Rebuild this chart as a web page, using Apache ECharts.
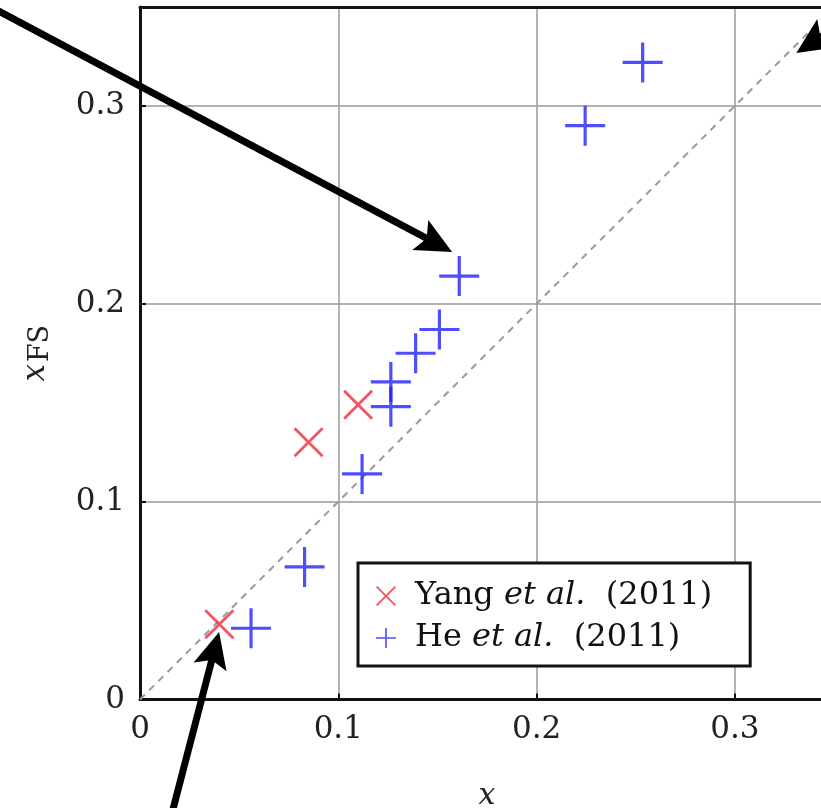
<!DOCTYPE html>
<html>
<head>
<meta charset="utf-8">
<script src="https://cdn.jsdelivr.net/npm/echarts@6/dist/echarts.min.js"></script>
<style>html,body{margin:0;padding:0;background:#fff}#c{width:821px;height:808px}</style>
</head>
<body>
<div id="c"></div>
<script>
// Data
const yangX = [0.040, 0.085, 0.110];
const yangY = [0.038, 0.130, 0.149];
const heX = [0.056, 0.083, 0.112, 0.1265, 0.1265, 0.139, 0.151, 0.161, 0.2245, 0.2535];
const heY = [0.036, 0.067, 0.114, 0.148, 0.1605, 0.175, 0.187, 0.214, 0.290, 0.322];
const tickValues = [0, 0.1, 0.2, 0.3];
const tickLabels = ['0', '0.1', '0.2', '0.3'];
const diagX = [0, 0.35];
const diagY = [0, 0.35];
// annotation arrows: [tailX, tailY, tipX, tipY] in data units
const arrows = [
  [-0.0807, 0.3530, 0.1574, 0.2262],
  [0.0126, -0.071, 0.0399, 0.0341],
  [0.3683, 0.3511, 0.3310, 0.3268]
];

const serif = '"DejaVu Serif", "Liberation Serif", serif';
const plusPath = 'path://M18.4,0 H21.6 V18.4 H40 V21.6 H21.6 V40 H18.4 V21.6 H0 V18.4 H18.4 Z';
const crossPath = 'path://M2,0 L15,13 L28,0 L30,2 L17,15 L30,28 L28,30 L15,17 L2,30 L0,28 L13,15 L0,2 Z';
const red = '#f02a3a';
const blue = '#2222ff';

function lbl(v) {
  for (let i = 0; i < tickValues.length; i++) if (Math.abs(v - tickValues[i]) < 1e-9) return tickLabels[i];
  return '';
}

const chart = echarts.init(document.getElementById('c'), null, {renderer: 'canvas'});
const richLegend = {
  n: {fontFamily: serif, fontSize: 32, color: '#111'},
  i: {fontFamily: serif, fontSize: 32, fontStyle: 'italic', color: '#111'}
};
const frameAxis = {
  axisLine: {show: true, onZero: false, lineStyle: {color: '#111', width: 3}},
  axisTick: {show: true, inside: true, length: 6, lineStyle: {color: '#111', width: 2}},
  splitLine: {show: true, lineStyle: {color: '#9a9a9a', width: 1.5}}
};
chart.setOption({
  backgroundColor: '#fff',
  animation: false,
  grid: {left: 140, width: 694, top: 7, height: 692.5, outerBoundsMode: 'none', containLabel: false,
         show: false},
  xAxis: [{
    type: 'value', min: 0, max: 0.35, interval: 0.1,
    name: 'x', nameLocation: 'middle', nameGap: 82,
    nameTextStyle: {fontFamily: serif, fontStyle: 'italic', fontSize: 30, color: '#222'},
    axisLine: frameAxis.axisLine, axisTick: frameAxis.axisTick, splitLine: frameAxis.splitLine,
    axisLabel: {showMaxLabel: false, margin: 15, fontFamily: serif, fontSize: 31, color: '#222', formatter: lbl}
  }, {
    type: 'value', position: 'top', min: 0, max: 0.35, interval: 0.1,
    axisLine: frameAxis.axisLine, axisTick: {show: false}, axisLabel: {show: false}, splitLine: {show: false}
  }],
  yAxis: {
    type: 'value', min: 0, max: 0.35, interval: 0.1,
    name: '{i|x}{s|FS}', nameLocation: 'middle', nameGap: 86, nameRotate: 90,
    nameTextStyle: {rich: {
      i: {fontFamily: serif, fontStyle: 'italic', fontSize: 31, color: '#222'},
      s: {fontFamily: serif, fontSize: 27, color: '#222', padding: [10, 0, 0, 2]}
    }},
    axisLine: frameAxis.axisLine, axisTick: frameAxis.axisTick, splitLine: frameAxis.splitLine,
    axisLabel: {showMaxLabel: false, margin: 15, fontFamily: serif, fontSize: 31, color: '#222', formatter: lbl}
  },
  legend: {
    orient: 'vertical', left: 358, top: 563,
    padding: [15, 38, 10, 18],
    backgroundColor: '#fff', borderColor: '#111', borderWidth: 3,
    itemWidth: 20, itemHeight: 20, itemGap: 6,
    data: [
      {name: 'Yang', icon: crossPath, itemStyle: {color: red}},
      {name: 'He', icon: plusPath, itemStyle: {color: blue}}
    ],
    formatter: function (n) {
      return n === 'Yang' ? '{n|Yang }{i|et al.}{n|  (2011)}' : '{n|He }{i|et al.}{n|  (2011)}';
    },
    textStyle: {rich: richLegend, padding: [0, 0, 0, 14], lineHeight: 36}
  },
  series: [
    {
      type: 'line', data: diagX.map((v, i) => [v, diagY[i]]), showSymbol: false, symbol: 'none',
      lineStyle: {color: '#9a9a9a', width: 2, type: [7, 6]}, silent: true, z: 1
    },
    {
      name: 'Yang', type: 'scatter', symbol: crossPath, symbolSize: 30,
      itemStyle: {color: red}, data: yangX.map((v, i) => [v, yangY[i]]), z: 3
    },
    {
      name: 'He', type: 'scatter', symbol: plusPath, symbolSize: 40,
      itemStyle: {color: blue}, data: heX.map((v, i) => [v, heY[i]]), z: 3
    }
  ]
});

// draw annotation arrows through the chart's own coordinate conversion
const g = [];
arrows.forEach(function (a) {
  const t = chart.convertToPixel({gridIndex: 0}, [a[0], a[1]]);
  const p = chart.convertToPixel({gridIndex: 0}, [a[2], a[3]]);
  const dx = p[0] - t[0], dy = p[1] - t[1];
  const len = Math.sqrt(dx * dx + dy * dy);
  const ux = dx / len, uy = dy / len;
  const L = 36, W = 34;
  const bx = p[0] - ux * L, by = p[1] - uy * L;
  const nx = -uy, ny = ux;
  const notch = [p[0] - ux * L * 0.8, p[1] - uy * L * 0.8];
  g.push({type: 'line', shape: {x1: t[0], y1: t[1], x2: notch[0], y2: notch[1]}, style: {stroke: '#000', lineWidth: 7}, z: 100});
  g.push({type: 'polygon', shape: {points: [p, [bx + nx * W / 2, by + ny * W / 2], notch, [bx - nx * W / 2, by - ny * W / 2]]}, style: {fill: '#000'}, z: 100});
});
chart.setOption({graphic: g});
</script>
</body>
</html>
